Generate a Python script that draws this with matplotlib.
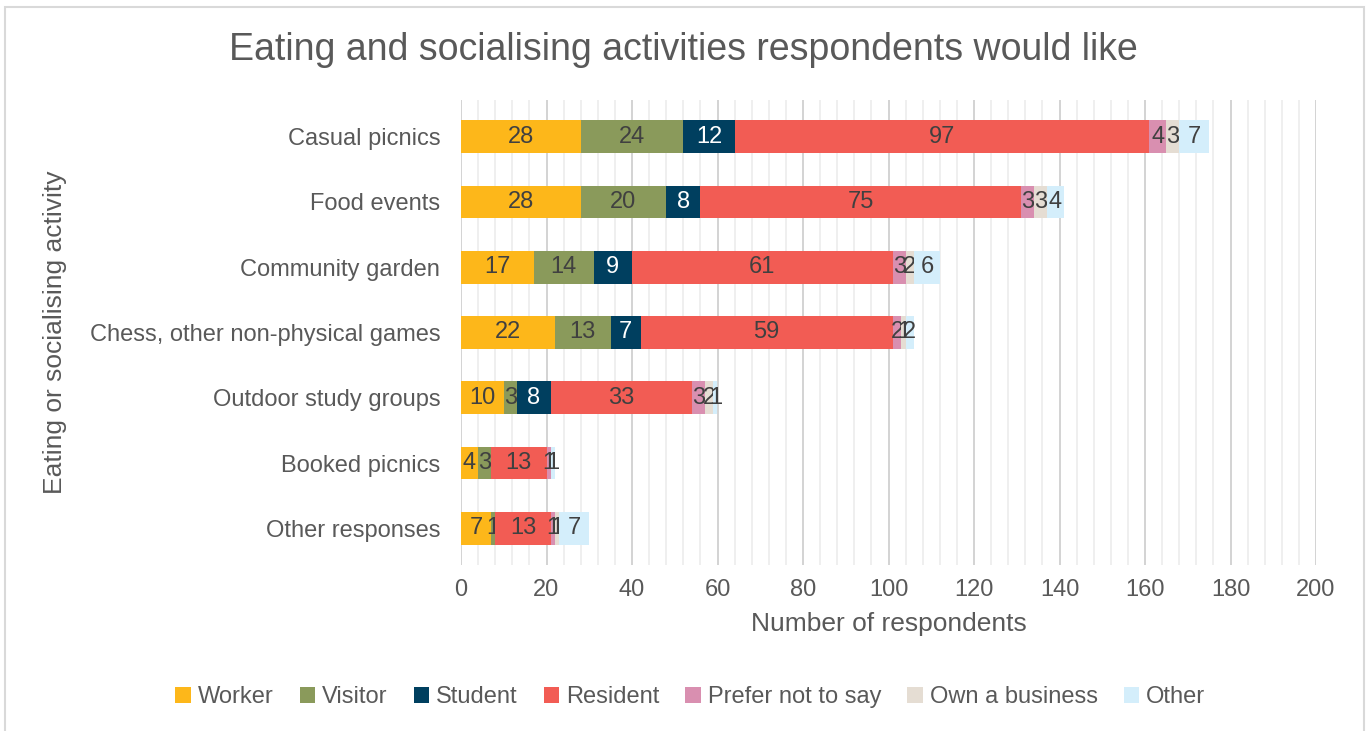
import numpy as np
import matplotlib.pyplot as plt
from matplotlib.patches import Rectangle
from matplotlib.ticker import MultipleLocator

plt.rcParams["font.family"] = ["Liberation Sans", "DejaVu Sans"]

activities = [
    "Casual picnics",
    "Food events",
    "Community garden",
    "Chess, other non-physical games",
    "Outdoor study groups",
    "Booked picnics",
    "Other responses",
]
groups = ["Worker", "Visitor", "Student", "Resident",
          "Prefer not to say", "Own a business", "Other"]

worker = [28, 28, 17, 22, 10, 4, 7]
visitor = [24, 20, 14, 13, 3, 3, 1]
student = [12, 8, 9, 7, 8, 0, 0]
resident = [97, 75, 61, 59, 33, 13, 13]
prefer_not = [4, 3, 3, 2, 3, 1, 1]
own_business = [3, 3, 2, 1, 2, 0, 1]
other = [7, 4, 6, 2, 1, 1, 7]

series = [worker, visitor, student, resident, prefer_not, own_business, other]
colors = ["#FDB71A", "#8A9A5B", "#003F5F", "#F25C54",
          "#D98FB0", "#E5DDD3", "#D4EEFB"]
label_colors = ["#404040", "#404040", "white", "#404040",
                "#404040", "#404040", "#404040"]

fig = plt.figure(figsize=(13.67, 7.31), dpi=100)
ax = fig.add_axes([461 / 1367, 1 - 565 / 731, 855 / 1367, 465 / 731])

y = np.arange(len(activities))
left = np.zeros(len(activities))
for name, vals, c, lc in zip(groups, series, colors, label_colors):
    vals = np.array(vals, dtype=float)
    bars = ax.barh(y, vals, left=left, height=0.5, color=c, label=name, zorder=3)
    labels = [f"{int(v)}" if v > 0 else "" for v in vals]
    ax.bar_label(bars, labels=labels, label_type="center", color=lc, fontsize=17)
    left += vals

ax.set_xlim(0, 200)
ax.set_ylim(6.56, -0.56)
ax.set_yticks(y, activities)
ax.xaxis.set_major_locator(MultipleLocator(20))
ax.xaxis.set_minor_locator(MultipleLocator(4))
ax.grid(axis="x", which="major", color="#D0D0D0", linewidth=1.3, zorder=0)
ax.grid(axis="x", which="minor", color="#EEEEEE", linewidth=1.3, zorder=0)
ax.tick_params(axis="both", which="both", length=0, colors="#595959", labelsize=17)
ax.tick_params(axis="x", pad=10)
ax.tick_params(axis="y", pad=15)
for s in ax.spines.values():
    s.set_visible(False)

ax.set_xlabel("Number of respondents", fontsize=19, color="#595959", labelpad=8)
ax.set_ylabel("Eating or socialising activity", fontsize=19, color="#595959", labelpad=16)
fig.text(0.5, 1 - 50 / 731, "Eating and socialising activities respondents would like",
         ha="center", va="center", fontsize=27, color="#595959")

fig.legend(loc="center", bbox_to_anchor=(0.505, 1 - 697 / 731), ncol=7, frameon=False,
           fontsize=17, handlelength=0.65, handleheight=0.65, handletextpad=0.3,
           columnspacing=1.1, labelcolor="#595959")

fig.patches.append(Rectangle((5 / 1367, -0.01), 1359 / 1367, 1 - 7 / 731 + 0.01,
                             transform=fig.transFigure, fill=False,
                             edgecolor="#D9D9D9", linewidth=1.5))

fig.savefig("out.png", dpi=100)
